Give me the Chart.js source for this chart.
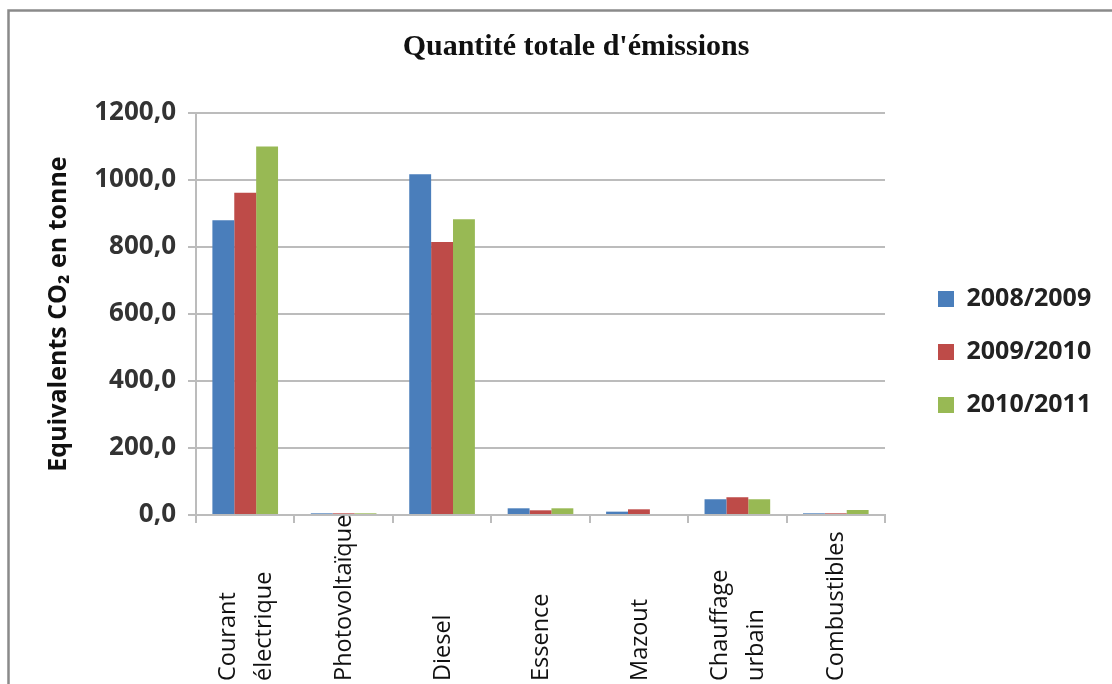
<!DOCTYPE html>
<html>
<head>
<meta charset="utf-8">
<script src="https://cdn.jsdelivr.net/npm/chart.js@4/dist/chart.umd.min.js"></script>
<style>
  html, body { margin: 0; padding: 0; background: #ffffff; }
  canvas { display: block; }
</style>
</head>
<body>
<canvas id="c" width="1112" height="684"></canvas>
<script>
// ---- data ----
const chartTitle = "Quantité totale d'émissions";
const yAxisTitle = "Equivalents CO₂ en tonne";
const categories = [["Courant", "électrique"], "Photovoltaïque", "Diesel", "Essence", "Mazout", ["Chauffage", "urbain"], "Combustibles"];
const seriesNames = ["2008/2009", "2009/2010", "2010/2011"];
const values2008 = [880, 5, 1017, 20, 10, 47, 5];
const values2009 = [962, 5, 815, 14, 17, 53, 5];
const values2010 = [1100, 5, 883, 20, 0, 47, 15];
const yTickLabels = ["0,0", "200,0", "400,0", "600,0", "800,0", "1000,0", "1200,0"];
const seriesColors = ["#4a7ebb", "#be4b48", "#98b954"];

// ---- plugins ----
const framePlugin = {
  id: "frame",
  beforeDraw(chart) {
    const ctx = chart.ctx;
    ctx.save();
    ctx.fillStyle = "#ffffff";
    ctx.fillRect(0, 0, chart.width, chart.height);
    ctx.strokeStyle = "#8a8a8a";
    ctx.lineWidth = 2.5;
    ctx.strokeRect(8.5, 10.5, 1300, 900);
    ctx.restore();
  }
};

const layoutTweaks = {
  id: "layoutTweaks",
  beforeUpdate(chart) {
    const lg = chart.legend;
    if (lg && !lg._wrappedFit) {
      const orig = lg.fit;
      lg.fit = function () {
        orig.call(this);
        this.width = 227;
      };
      lg._wrappedFit = true;
    }
  },
  afterLayout(chart) {
    const lg = chart.legend;
    if (lg) {
      lg.left += 25; lg.right += 25;
      lg.top += 10; lg.bottom += 10;
    }
    const tb = chart.titleBlock;
    if (tb) { tb.left += 20; tb.right += 20; }
  }
};

const xLabelPlugin = {
  id: "xLabels",
  afterDraw(chart) {
    const xs = chart.scales.x;
    const ctx = chart.ctx;
    ctx.save();
    ctx.font = '23.5px "Open Sans"';
    ctx.fillStyle = "#111";
    ctx.textAlign = "left";
    ctx.textBaseline = "middle";
    categories.forEach((lab, i) => {
      const lines = Array.isArray(lab) ? lab : [lab];
      const x = xs.getPixelForValue(i);
      ctx.save();
      ctx.translate(x + 1, 681);
      ctx.rotate(-Math.PI / 2);
      lines.forEach((ln, j) => ctx.fillText(ln, 0, (j - (lines.length - 1) / 2) * 36));
      ctx.restore();
    });
    ctx.restore();
  }
};

const gridColor = "#bcbcbc";

new Chart(document.getElementById("c"), {
  type: "bar",
  data: {
    labels: categories,
    datasets: [
      { label: seriesNames[0], data: values2008, backgroundColor: seriesColors[0] },
      { label: seriesNames[1], data: values2009, backgroundColor: seriesColors[1] },
      { label: seriesNames[2], data: values2010, backgroundColor: seriesColors[2] }
    ]
  },
  options: {
    responsive: false,
    animation: false,
    devicePixelRatio: 1,
    layout: { padding: 0 },
    datasets: { bar: { categoryPercentage: 0.667, barPercentage: 1.0, borderWidth: 0 } },
    plugins: {
      title: {
        display: true,
        text: chartTitle,
        color: "#111",
        font: { family: '"Liberation Serif"', size: 30, weight: "bold" },
        padding: { top: 29, bottom: 48 }
      },
      legend: {
        position: "right",
        align: "center",
        labels: {
          boxWidth: 16,
          boxHeight: 16,
          padding: 28,
          color: "#222",
          font: { family: '"Open Sans"', size: 25, weight: "bold" }
        }
      },
      tooltip: { enabled: false }
    },
    scales: {
      x: {
        offset: true,
        grid: { display: true, drawOnChartArea: false, drawTicks: true, tickLength: 8, color: gridColor, lineWidth: 2, offset: true },
        border: { display: true, color: gridColor, width: 2 },
        ticks: { display: false },
        afterFit(s) { s.height = 169; }
      },
      y: {
        min: 0,
        max: 1200,
        ticks: {
          stepSize: 200,
          padding: 12,
          color: "#333",
          font: { family: '"Open Sans"', size: 26, weight: "bold" },
          callback: (v, i) => yTickLabels[i]
        },
        grid: { color: gridColor, lineWidth: 2, drawTicks: true, tickLength: 8 },
        border: { display: true, color: gridColor, width: 2 },
        title: {
          display: true,
          text: yAxisTitle,
          color: "#111",
          font: { family: '"Open Sans"', size: 25, weight: "bold" },
          padding: { top: 44, bottom: 0 }
        },
        afterFit(s) { s.width = 196; }
      }
    }
  },
  plugins: [framePlugin, layoutTweaks, xLabelPlugin]
});
</script>
</body>
</html>
